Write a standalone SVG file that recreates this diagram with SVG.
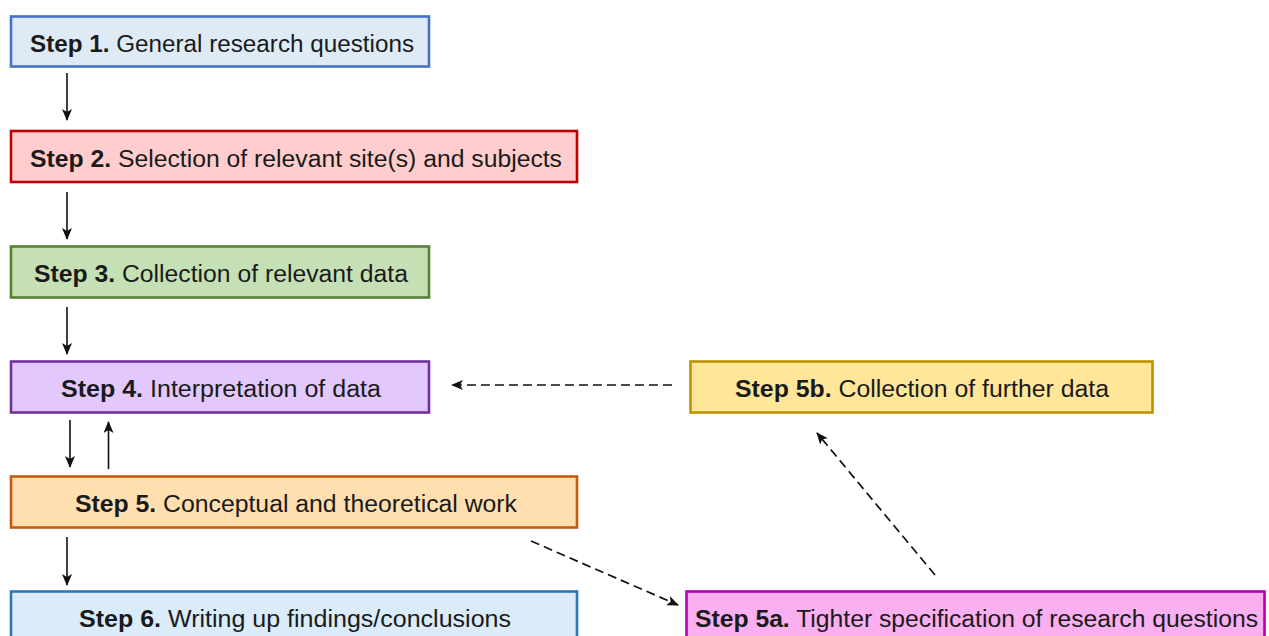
<svg xmlns="http://www.w3.org/2000/svg" width="1269" height="636" viewBox="0 0 1269 636">
  <style>
    .box { stroke-width: 2.6; }
    .lbl { font-family: "Liberation Sans", Arial, sans-serif; font-size: 23px; fill: #1a1a1a; text-anchor: middle; }
    .lbl .b { font-weight: bold; }
    .solid { stroke: #111; stroke-width: 1.6; fill: none; marker-end: url(#head); }
    .dash { stroke: #111; stroke-width: 1.7; fill: none; stroke-dasharray: 9 5; marker-end: url(#head); }
  </style>
  <defs>
    <marker id="head" markerUnits="userSpaceOnUse" viewBox="0 0 12 10" refX="11" refY="5" markerWidth="12" markerHeight="10" orient="auto">
      <path d="M0,0 L12,5 L0,10 L3,5 Z" fill="#111"/>
    </marker>
  </defs>
  <rect width="1269" height="636" fill="#ffffff"/>

  <g id="step1">
    <rect class="box" x="11" y="16.5" width="418" height="50" fill="#DEEBF7" stroke="#4472C4"/>
    <text class="lbl" x="222" y="52" textLength="384" lengthAdjust="spacingAndGlyphs"><tspan class="b">Step 1.</tspan> General research questions</text>
  </g>
  <g id="step2">
    <rect class="box" x="11" y="131" width="566" height="51" fill="#FFCDCD" stroke="#C00000"/>
    <text class="lbl" x="296" y="166.5" textLength="532" lengthAdjust="spacingAndGlyphs"><tspan class="b">Step 2.</tspan> Selection of relevant site(s) and subjects</text>
  </g>
  <g id="step3">
    <rect class="box" x="11" y="246.5" width="418" height="51" fill="#C5E0B4" stroke="#548235"/>
    <text class="lbl" x="221" y="282" textLength="374" lengthAdjust="spacingAndGlyphs"><tspan class="b">Step 3.</tspan> Collection of relevant data</text>
  </g>
  <g id="step4">
    <rect class="box" x="11" y="361.5" width="418" height="51" fill="#E2C8FC" stroke="#7030A0"/>
    <text class="lbl" x="221" y="397" textLength="320" lengthAdjust="spacingAndGlyphs"><tspan class="b">Step 4.</tspan> Interpretation of data</text>
  </g>
  <g id="step5">
    <rect class="box" x="11" y="476.5" width="566" height="51" fill="#FFDFAF" stroke="#C55A11"/>
    <text class="lbl" x="296" y="511.5" textLength="442" lengthAdjust="spacingAndGlyphs"><tspan class="b">Step 5.</tspan> Conceptual and theoretical work</text>
  </g>
  <g id="step6">
    <rect class="box" x="11" y="591.5" width="566" height="60" fill="#DAEBF9" stroke="#2E75B6"/>
    <text class="lbl" x="295" y="627" textLength="432" lengthAdjust="spacingAndGlyphs"><tspan class="b">Step 6.</tspan> Writing up findings/conclusions</text>
  </g>
  <g id="step5b">
    <rect class="box" x="690.5" y="361.5" width="462" height="51" fill="#FFE699" stroke="#BF9000"/>
    <text class="lbl" x="922" y="397" textLength="374" lengthAdjust="spacingAndGlyphs"><tspan class="b">Step 5b.</tspan> Collection of further data</text>
  </g>
  <g id="step5a">
    <rect class="box" x="686.5" y="591.5" width="578" height="60" fill="#F9AFF0" stroke="#B400B4"/>
    <text class="lbl" x="976.5" y="627" textLength="563" lengthAdjust="spacingAndGlyphs"><tspan class="b">Step 5a.</tspan> Tighter specification of research questions</text>
  </g>

  <g id="connectors">
    <line class="solid" x1="67" y1="73" x2="67" y2="120"/>
    <line class="solid" x1="67" y1="192" x2="67" y2="239"/>
    <line class="solid" x1="67" y1="307" x2="67" y2="354"/>
    <line class="solid" x1="70" y1="420" x2="70" y2="467"/>
    <line class="solid" x1="108.5" y1="469" x2="108.5" y2="422"/>
    <line class="solid" x1="67" y1="537" x2="67" y2="585"/>
    <line class="dash" x1="672" y1="385" x2="452" y2="385"/>
    <line class="dash" x1="531" y1="541" x2="678" y2="605"/>
    <line class="dash" x1="935" y1="575" x2="817" y2="433"/>
  </g>
</svg>
